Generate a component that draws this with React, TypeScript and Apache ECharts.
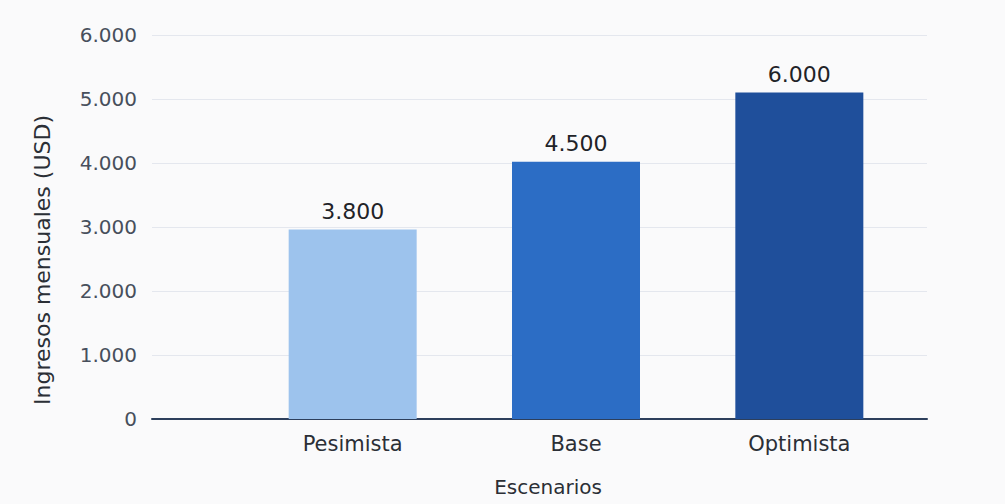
import React, { useEffect, useRef } from "react";
import * as echarts from "echarts";

const categories = ["Pesimista", "Base", "Optimista"];
const barValues = [2960, 4020, 5100];
const valueLabels = ["3.800", "4.500", "6.000"];
const barColors = ["#9dc3ed", "#2c6dc5", "#1f4f9b"];
const yTicks = [0, 1000, 2000, 3000, 4000, 5000, 6000];
const yAxisTitle = "Ingresos mensuales (USD)";
const xAxisTitle = "Escenarios";

const fmt = (v: number) => {
  if (v === 0) return "0";
  const s = String(v);
  return s.replace(/\B(?=(\d{3})+(?!\d))/g, ".");
};

export default function App() {
  const ref = useRef<HTMLDivElement>(null);
  useEffect(() => {
    document.body.style.margin = "0";
    const chart = echarts.init(ref.current!, undefined, { renderer: "svg" });
    const font = "'DejaVu Sans', 'Noto Sans', sans-serif";
    chart.setOption({
      animation: false,
      backgroundColor: "#fafafb",
      grid: [
        { left: 152, right: 78, top: 35, bottom: 85 },
        { left: 241, width: 670, top: 35, bottom: 85 },
      ],
      graphic: [
        {
          type: "text",
          x: 42,
          y: 260,
          rotation: Math.PI / 2,
          style: {
            text: yAxisTitle,
            fontFamily: font,
            fontSize: 22,
            fill: "#2b2f36",
            align: "center",
            verticalAlign: "middle",
          },
        },
      ],
      xAxis: [
        {
          type: "category",
          gridIndex: 0,
          data: [""],
          axisLine: { show: true, lineStyle: { color: "#2d3f5c", width: 2 } },
          axisTick: { show: false },
          axisLabel: { show: false },
          name: xAxisTitle,
          nameLocation: "middle",
          nameGap: 58,
          nameTextStyle: { fontFamily: font, fontSize: 20, color: "#2b2f36", padding: [0, 0, 0, 17] },
        },
        {
          type: "category",
          gridIndex: 1,
          data: categories,
          axisLine: { show: false },
          axisTick: { show: false },
          axisLabel: { fontFamily: font, fontSize: 21, color: "#2b2f36", margin: 14 },
        },
      ],
      yAxis: [
        {
          type: "value",
          gridIndex: 0,
          min: yTicks[0],
          max: yTicks[yTicks.length - 1],
          interval: 1000,
          axisLine: { show: false },
          axisTick: { show: false },
          axisLabel: { fontFamily: font, fontSize: 20, color: "#474f5c", margin: 15, formatter: (v: number) => fmt(v) },
          splitLine: { lineStyle: { color: "#e4e7ee", width: 1 } },
        },
        {
          type: "value",
          gridIndex: 1,
          min: yTicks[0],
          max: yTicks[yTicks.length - 1],
          interval: 1000,
          show: false,
          splitLine: { show: false },
        },
      ],
      series: [
        {
          type: "bar",
          xAxisIndex: 1,
          yAxisIndex: 1,
          barWidth: 128,
          data: barValues.map((v, i) => ({ value: v, itemStyle: { color: barColors[i] } })),
          label: {
            show: true,
            position: "top",
            distance: 7,
            fontFamily: font,
            fontSize: 22,
            color: "#1f2328",
            formatter: (p: any) => valueLabels[p.dataIndex],
          },
        },
      ],
    });
    return () => chart.dispose();
  }, []);
  return <div ref={ref} style={{ position: "absolute", left: 0, top: 0, width: 1005, height: 504 }} />;
}
